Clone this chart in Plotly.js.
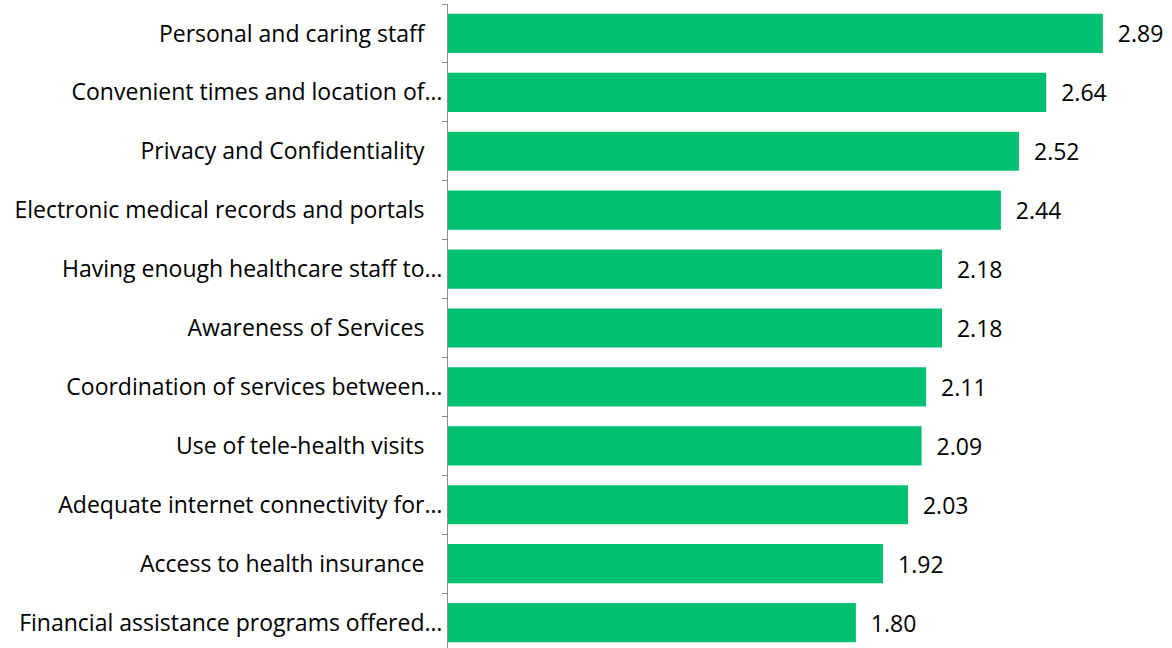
<!DOCTYPE html>
<html>
<head>
<meta charset="utf-8">
<script src="https://cdn.plot.ly/plotly-3.0.1.min.js"></script>
<style>
html,body{margin:0;padding:0;overflow:hidden;background:#fff;}
#chart{width:1172px;height:652px;}
</style>
</head>
<body>
<div id="chart"></div>
<script>
const categories = [
  "Personal and caring staff\u00a0\u00a0\u00a0",
  "Convenient times and location of\u2026",
  "Privacy and Confidentiality\u00a0\u00a0\u00a0",
  "Electronic medical records and portals\u00a0\u00a0\u00a0",
  "Having enough healthcare staff to\u2026",
  "Awareness of Services\u00a0\u00a0\u00a0",
  "Coordination of services between\u2026",
  "Use of tele-health visits\u00a0\u00a0\u00a0",
  "Adequate internet connectivity for\u2026",
  "Access to health insurance\u00a0\u00a0\u00a0",
  "Financial assistance programs offered\u2026"
];
const values = [2.89, 2.64, 2.52, 2.44, 2.18, 2.18, 2.11, 2.09, 2.03, 1.92, 1.80];
const valueLabels = values.map(v => "\u00a0\u00a0" + v.toFixed(2));

const FONT = "'Open Sans', Lato, sans-serif";

Plotly.newPlot("chart", [{
  type: "bar",
  orientation: "h",
  y: categories,
  x: values,
  text: valueLabels,
  textposition: "outside",
  textfont: {family: FONT, size: 23, color: "#000"},
  cliponaxis: false,
  marker: {color: "#00C170"},
  hoverinfo: "none"
}], {
  width: 1172,
  height: 652,
  margin: {l: 448, r: 0, t: 4, b: 0, pad: 0},
  bargap: 0.335,
  paper_bgcolor: "#fff",
  plot_bgcolor: "#fff",
  showlegend: false,
  font: {family: FONT, size: 23, color: "#000"},
  xaxis: {range: [0, 3.195], visible: false, fixedrange: true},
  yaxis: {
    autorange: "reversed",
    showline: true, linecolor: "#8c8c8c", linewidth: 1,
    ticks: "outside", ticklen: 5, tickcolor: "#8c8c8c", tickson: "boundaries",
    showgrid: false, zeroline: false,
    tickfont: {family: FONT, size: 23, color: "#000"},
    automargin: false
  }
}, {displayModeBar: false, staticPlot: true});
</script>
</body>
</html>
